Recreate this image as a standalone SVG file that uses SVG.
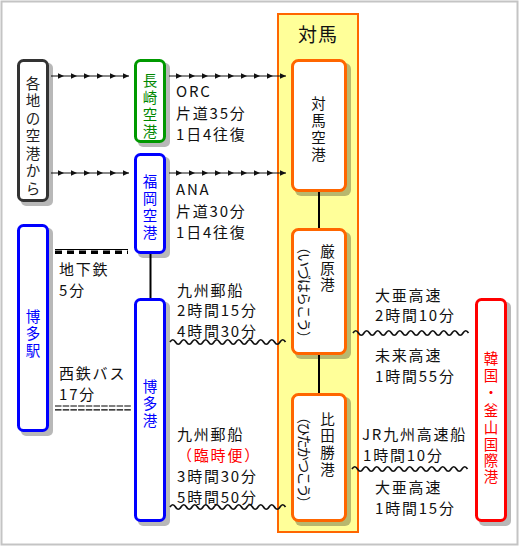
<svg xmlns="http://www.w3.org/2000/svg" width="520" height="547" viewBox="0 0 520 547">
<defs>
<style>
.lbl{font-family:"Noto Sans CJK JP","Noto Sans",sans-serif;font-size:15px;letter-spacing:1.8px;fill:#111}
.vt{font-family:"Noto Sans CJK JP","Noto Sans",sans-serif;font-size:14.5px;text-anchor:middle}
.rt{font-family:"Noto Sans CJK JP","Noto Sans",sans-serif;font-size:14px;text-anchor:middle;dominant-baseline:central;fill:#111}
.node{fill:#fff;stroke-width:3}
.sh{fill:#000;opacity:0.28}
.conn{stroke:#000;stroke-width:2;fill:none}
.arr{stroke:#111;stroke-width:1.2;fill:none;marker-mid:url(#ah);marker-end:url(#ah)}
.wave{stroke:#111;stroke-width:1.7;fill:none}
</style>
<marker id="ah" viewBox="0 0 6 6" refX="6" refY="3" markerWidth="6" markerHeight="6" orient="auto" markerUnits="userSpaceOnUse">
<path d="M0,0.3 L6,3 L0,5.7 z" fill="#111"/>
</marker>
</defs>
<rect x="0" y="0" width="520" height="547" fill="#fff"/>
<rect x="1.5" y="1.5" width="516" height="543" fill="#fff" stroke="#c4c4c4" stroke-width="2"/>

<g id="tsushima-area">
<rect x="278" y="14" width="80" height="518" fill="#ffff99" stroke="#ff6600" stroke-width="2"/>
<text x="318" y="42" style="font-family:'Noto Sans CJK JP',sans-serif;font-size:19px;letter-spacing:1px;text-anchor:middle;fill:#111">対馬</text>
</g>

<g id="connectors">
<line class="conn" x1="319" y1="192" x2="319" y2="228"/>
<line class="conn" x1="319" y1="355" x2="319" y2="393"/>
<line class="conn" x1="150.5" y1="254" x2="150.5" y2="298"/>
<polyline class="arr" points="51,76 64,76 77,76 90,76 103,76 116,76 129,76"/>
<polyline class="arr" points="169,76 182,76 195,76 208,76 221,76 234,76 247,76 260,76 273,76 286,76"/>
<polyline class="arr" points="51,173 64,173 77,173 90,173 103,173 116,173 129,173"/>
<polyline class="arr" points="169,173 182,173 195,173 208,173 221,173 234,173 247,173 260,173 273,173 286,173"/>
<line x1="55" y1="249.5" x2="128" y2="249.5" stroke="#000" stroke-width="1.2"/>
<line x1="55" y1="252.2" x2="128" y2="252.2" stroke="#000" stroke-width="3.4" stroke-dasharray="7,5"/>
<line x1="55" y1="406" x2="132" y2="406" stroke="#000" stroke-width="1.2" stroke-dasharray="6.5,1.2"/>
<line x1="55" y1="409.8" x2="132" y2="409.8" stroke="#000" stroke-width="1.2" stroke-dasharray="6.5,1.2"/>
<path class="wave" d="M170,342 q2.75,-4.5 5.5,0 t5.5,0 t5.5,0 t5.5,0 t5.5,0 t5.5,0 t5.5,0 t5.5,0 t5.5,0 t5.5,0 t5.5,0 t5.5,0 t5.5,0 t5.5,0 t5.5,0 t5.5,0 t5.5,0 t5.5,0 t5.5,0 t5.5,0 t5.5,0"/>
<path class="wave" d="M353,333 q2.75,-4.5 5.5,0 t5.5,0 t5.5,0 t5.5,0 t5.5,0 t5.5,0 t5.5,0 t5.5,0 t5.5,0 t5.5,0 t5.5,0 t5.5,0 t5.5,0 t5.5,0 t5.5,0 t5.5,0 t5.5,0 t5.5,0 t5.5,0 t5.5,0 t5.5,0"/>
<path class="wave" d="M352,469 q2.75,-4.5 5.5,0 t5.5,0 t5.5,0 t5.5,0 t5.5,0 t5.5,0 t5.5,0 t5.5,0 t5.5,0 t5.5,0 t5.5,0 t5.5,0 t5.5,0 t5.5,0 t5.5,0 t5.5,0 t5.5,0 t5.5,0 t5.5,0 t5.5,0 t5.5,0"/>
<path class="wave" d="M170,507 q2.75,-4.5 5.5,0 t5.5,0 t5.5,0 t5.5,0 t5.5,0 t5.5,0 t5.5,0 t5.5,0 t5.5,0 t5.5,0 t5.5,0 t5.5,0 t5.5,0 t5.5,0 t5.5,0 t5.5,0 t5.5,0 t5.5,0 t5.5,0 t5.5,0 t5.5,0"/>
</g>

<g id="kakuchi">
<rect class="sh" x="21" y="63" width="32" height="143" rx="5"/>
<rect class="node" x="18.5" y="60.5" width="29" height="140" rx="5" stroke="#333"/>
<text class="vt" fill="#222"><tspan x="33" y="88.5">各</tspan><tspan x="33" y="106">地</tspan><tspan x="33" y="123.5">の</tspan><tspan x="33" y="141">空</tspan><tspan x="33" y="158.5">港</tspan><tspan x="33" y="176">か</tspan><tspan x="33" y="193.5">ら</tspan></text>
</g>

<g id="nagasaki">
<rect class="sh" x="138" y="63" width="32" height="84" rx="5"/>
<rect class="node" x="135.5" y="60.5" width="29" height="81" rx="5" stroke="#009900"/>
<text class="vt" fill="#008800"><tspan x="150" y="85.5">長</tspan><tspan x="150" y="102.5">崎</tspan><tspan x="150" y="119.5">空</tspan><tspan x="150" y="136.5">港</tspan></text>
</g>

<g id="fukuoka">
<rect class="sh" x="138" y="157" width="32" height="101" rx="5"/>
<rect class="node" x="135.5" y="154.5" width="29" height="98" rx="5" stroke="#0000ff"/>
<text class="vt" fill="#0000ff"><tspan x="150" y="186.5">福</tspan><tspan x="150" y="203.5">岡</tspan><tspan x="150" y="220.5">空</tspan><tspan x="150" y="237.5">港</tspan></text>
</g>

<g id="hakata-eki">
<rect class="sh" x="21" y="228" width="32" height="208" rx="5"/>
<rect class="node" x="18.5" y="225.5" width="29" height="205" rx="5" stroke="#0000ff"/>
<text class="vt" fill="#0000ff"><tspan x="33" y="321.5">博</tspan><tspan x="33" y="338.5">多</tspan><tspan x="33" y="355.5">駅</tspan></text>
</g>

<g id="hakata-ko">
<rect class="sh" x="138" y="302" width="32" height="224" rx="5"/>
<rect class="node" x="135.5" y="299.5" width="29" height="221" rx="5" stroke="#0000ff"/>
<text class="vt" fill="#0000ff"><tspan x="150" y="391.5">博</tspan><tspan x="150" y="408.5">多</tspan><tspan x="150" y="425.5">港</tspan></text>
</g>

<g id="tsushima-airport">
<rect class="sh" x="295" y="63" width="56" height="133" rx="6"/>
<rect class="node" x="292.5" y="60.5" width="53" height="130" rx="6" stroke="#ff6600"/>
<text class="vt" fill="#111"><tspan x="318.5" y="108.5">対</tspan><tspan x="318.5" y="125.5">馬</tspan><tspan x="318.5" y="142.5">空</tspan><tspan x="318.5" y="159.5">港</tspan></text>
</g>

<g id="izuhara">
<rect class="sh" x="295" y="232" width="56" height="127" rx="6"/>
<rect class="node" x="292.5" y="229.5" width="53" height="124" rx="6" stroke="#ff6600"/>
<text class="vt" fill="#111"><tspan x="327.5" y="256.5">厳</tspan><tspan x="327.5" y="273.5">原</tspan><tspan x="327.5" y="290">港</tspan></text>
<text class="rt" transform="translate(305,292.5) rotate(90)" textLength="105">（いづはらこう）</text>
</g>

<g id="hitakatsu">
<rect class="sh" x="295" y="397" width="56" height="129" rx="6"/>
<rect class="node" x="292.5" y="394.5" width="53" height="126" rx="6" stroke="#ff6600"/>
<text class="vt" fill="#111"><tspan x="327.5" y="424.5">比</tspan><tspan x="327.5" y="441">田</tspan><tspan x="327.5" y="457.5">勝</tspan><tspan x="327.5" y="474.5">港</tspan></text>
<text class="rt" transform="translate(305,460) rotate(90)" textLength="100">（ひたかつこう）</text>
</g>

<g id="busan">
<rect class="sh" x="479" y="302" width="32" height="224" rx="5"/>
<rect class="node" x="476.5" y="299.5" width="29" height="221" rx="5" stroke="#ff0000"/>
<text class="vt" fill="#ff0000"><tspan x="491" y="363.5">韓</tspan><tspan x="491" y="380.5">国</tspan><tspan x="491" y="398">・</tspan><tspan x="491" y="416">釜</tspan><tspan x="491" y="432.5">山</tspan><tspan x="491" y="449.5">国</tspan><tspan x="491" y="465.5">際</tspan><tspan x="491" y="481.5">港</tspan></text>
</g>

<g id="labels">
<text class="lbl" x="176" y="97">ORC</text>
<text class="lbl" x="176" y="119">片道35分</text>
<text class="lbl" x="176" y="140">1日4往復</text>
<text class="lbl" x="176" y="195">ANA</text>
<text class="lbl" x="176" y="217">片道30分</text>
<text class="lbl" x="176" y="238">1日4往復</text>
<text class="lbl" x="59" y="275">地下鉄</text>
<text class="lbl" x="59" y="296">5分</text>
<text class="lbl" x="177" y="296">九州郵船</text>
<text class="lbl" x="177" y="316">2時間15分</text>
<text class="lbl" x="177" y="337">4時間30分</text>
<text class="lbl" x="59" y="379">西鉄バス</text>
<text class="lbl" x="59" y="400">17分</text>
<text class="lbl" x="177" y="440">九州郵船</text>
<text class="lbl" x="177" y="461" style="fill:#ff0000">（臨時便）</text>
<text class="lbl" x="177" y="482">3時間30分</text>
<text class="lbl" x="177" y="503">5時間50分</text>
<text class="lbl" x="375" y="301">大亜高速</text>
<text class="lbl" x="375" y="321">2時間10分</text>
<text class="lbl" x="375" y="361">未来高速</text>
<text class="lbl" x="375" y="382">1時間55分</text>
<text class="lbl" x="362" y="440">JR九州高速船</text>
<text class="lbl" x="363" y="461">1時間10分</text>
<text class="lbl" x="375" y="493">大亜高速</text>
<text class="lbl" x="375" y="514">1時間15分</text>
</g>
</svg>
